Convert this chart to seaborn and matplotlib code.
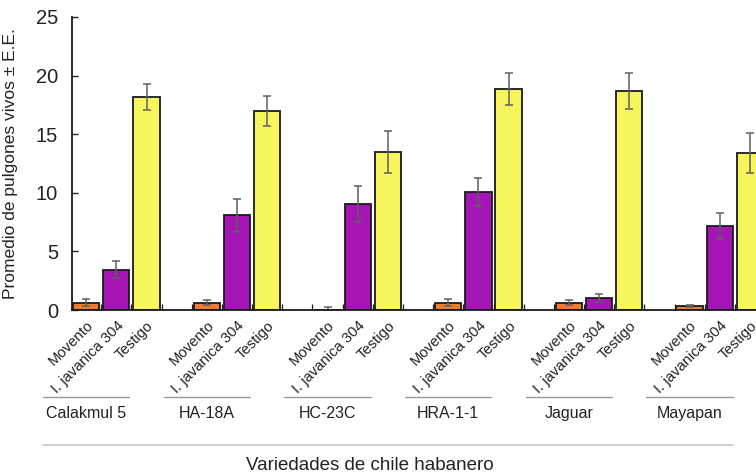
import numpy as np
import pandas as pd
import matplotlib.pyplot as plt
import seaborn as sns

# -------------------------
# Data
# -------------------------
variedades = ["Calakmul 5", "HA-18A", "HC-23C", "HRA-1-1", "Jaguar", "Mayapan"]
tratamientos = ["Movento", "I. javanica 304", "Testigo"]

movento = [0.62, 0.62, 0.03, 0.62, 0.62, 0.34]
movento_ee = [0.30, 0.23, 0.20, 0.28, 0.23, 0.09]
javanica = [3.45, 8.08, 9.04, 10.06, 0.99, 7.17]
javanica_ee = [0.75, 1.42, 1.53, 1.22, 0.34, 1.13]
testigo = [18.17, 16.98, 13.49, 18.85, 18.71, 13.38]
testigo_ee = [1.08, 1.25, 1.76, 1.39, 1.53, 1.70]

colores = ["#EE7D32", "#A514B5", "#F6F65C"]

rows = []
for g, var in enumerate(variedades):
    for t, (vals, ees) in enumerate([(movento, movento_ee),
                                     (javanica, javanica_ee),
                                     (testigo, testigo_ee)]):
        rows.append({"variedad": var, "trat": tratamientos[t],
                     "pos": g * 4 + t, "valor": vals[g], "ee": ees[g]})
df = pd.DataFrame(rows)

# -------------------------
# Plot
# -------------------------
sns.set_style("ticks")
plt.rcParams["font.family"] = ["Liberation Sans", "DejaVu Sans"]

fig = plt.figure(figsize=(7.56, 4.76), dpi=100)
ax = fig.add_axes([72 / 756, 166 / 476, 684 / 756, 293 / 476])

sns.barplot(data=df, x="pos", y="valor", hue="trat", hue_order=tratamientos,
            palette=colores, native_scale=True, dodge=False, width=0.87,
            saturation=1, edgecolor="#1a1a1a", linewidth=1.3,
            errorbar=None, legend=False, ax=ax)

ax.errorbar(df["pos"], df["valor"], yerr=df["ee"], fmt="none",
            ecolor="#5f5f5f", elinewidth=1.1, capsize=3, capthick=1.1)

ax.set_xlim(-0.47, 22.2)
ax.set_ylim(0, 25)
sns.despine(ax=ax)
for sp in ["left", "bottom"]:
    ax.spines[sp].set_linewidth(1.3)
    ax.spines[sp].set_color("#1a1a1a")

ax.set_xticks(df["pos"])
ax.set_xticklabels(df["trat"], rotation=45, ha="right",
                   rotation_mode="anchor", fontsize=10.6, color="#222222")
ax.tick_params(axis="x", which="major", length=0, pad=6)
ax.set_xticks(np.arange(0.5, 22.5, 1), minor=True)
ax.tick_params(axis="x", which="minor", direction="in", length=4,
               width=0.9, color="#1a1a1a")

ax.set_yticks([0, 5, 10, 15, 20, 25])
ax.tick_params(axis="y", direction="in", length=4, width=1.0,
               labelsize=14.5, pad=10, labelcolor="#222222")
ax.set_xlabel("")
ax.set_ylabel("Promedio de pulgones vivos ± E.E.", fontsize=12.5,
              color="#222222")
ax.yaxis.set_label_coords(-54 / 684, 0.5)

trans = ax.get_xaxis_transform()
for g, var in enumerate(variedades):
    ax.plot([g * 4 - 1.43, g * 4 + 1.43], [-0.297, -0.297], transform=trans,
            clip_on=False, color="#9a9a9a", lw=1)
    ax.text(g * 4, -0.352, var, transform=trans, ha="center", va="center",
            fontsize=11.5, color="#222222")

ax.plot([-1.43, 21.45], [-0.461, -0.461], transform=trans, clip_on=False,
        color="#c3c8cd", lw=1.2)
ax.text(9.4, -0.53, "Variedades de chile habanero", transform=trans,
        ha="center", va="center", fontsize=13.5, color="#222222")

fig.savefig("out.png", dpi=100)
plt.close()
